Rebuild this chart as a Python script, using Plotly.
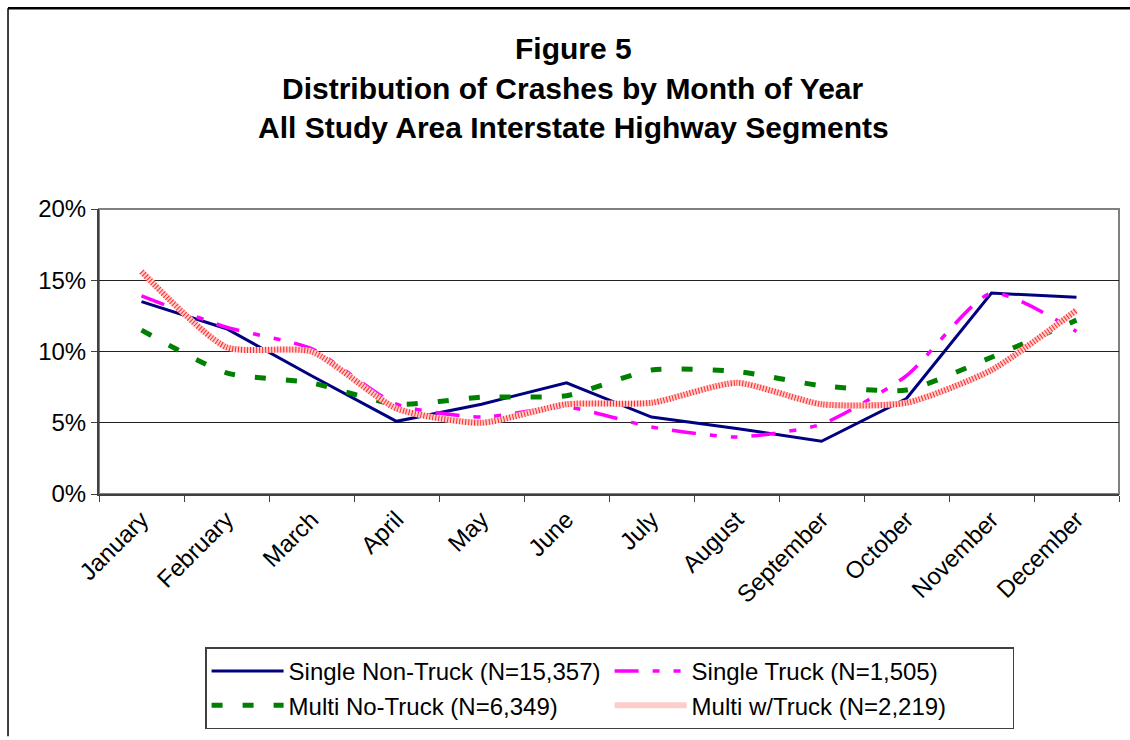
import plotly.graph_objects as go

months = ["January", "February", "March", "April", "May", "June", "July",
          "August", "September", "October", "November", "December"]
single_non_truck = [13.5, 11.6, 8.3, 5.1, 6.3, 7.8, 5.4, 4.6, 3.7, 6.7, 14.1, 13.8]
single_truck = [13.9, 11.7, 10.2, 6.3, 5.4, 6.1, 4.7, 4.0, 4.9, 8.3, 14.1, 11.4]
multi_no_truck = [11.5, 8.5, 7.8, 6.3, 6.8, 6.9, 8.7, 8.6, 7.6, 7.3, 9.6, 12.2]
multi_w_truck = [15.6, 10.3, 10.0, 6.0, 5.0, 6.3, 6.4, 7.8, 6.3, 6.4, 8.7, 12.9]

names = ["Single Non-Truck (N=15,357)", "Single Truck (N=1,505)",
         "Multi No-Truck (N=6,349)", "Multi w/Truck (N=2,219)"]
title_lines = ["Figure 5", "Distribution of Crashes by Month of Year",
               "All Study Area Interstate Highway Segments"]

FONT = "Liberation Sans, Arial, sans-serif"

fig = go.Figure()
fig.add_trace(go.Scatter(x=months, y=single_non_truck, name=names[0], mode="lines",
                         line=dict(color="#000080", width=3)))
fig.add_trace(go.Scatter(x=months, y=single_truck, name=names[1], mode="lines",
                         line=dict(color="#ff00ff", width=3.5, shape="spline", smoothing=0.6,
                                   dash="24px,14px,7px,14px,7px,14px")))
fig.add_trace(go.Scatter(x=months, y=multi_no_truck, name=names[2], mode="lines",
                         line=dict(color="#008000", width=5, shape="spline", smoothing=0.6,
                                   dash="11px,20px")))
fig.add_trace(go.Scatter(x=months, y=multi_w_truck, name=names[3], mode="lines",
                         legendgroup="mwt",
                         line=dict(color="#ffcccc", width=6, shape="spline", smoothing=0.6)))
fig.add_trace(go.Scatter(x=months, y=multi_w_truck, name=names[3], mode="lines",
                         legendgroup="mwt", showlegend=False, hoverinfo="skip",
                         line=dict(color="#ff2a2a", width=6, shape="spline", smoothing=0.6,
                                   dash="1px,2px")))

title_y = [1.5625, 1.4236, 1.2847]
annotations = [dict(text="<b>" + t + "</b>", x=0.465, y=yy, xref="paper", yref="paper",
                    xanchor="center", yanchor="middle", showarrow=False,
                    font=dict(family=FONT, size=30, color="black"))
               for t, yy in zip(title_lines, title_y)]

fig.update_layout(
    width=1130, height=740,
    margin=dict(l=99, r=11, t=209, b=243),
    paper_bgcolor="white", plot_bgcolor="white",
    font=dict(family=FONT, size=24, color="black"),
    showlegend=True,
    legend=dict(orientation="h", x=0.104, y=-0.538, xanchor="left", yanchor="top",
                entrywidth=316, itemwidth=72, bordercolor="#404040", borderwidth=1.5,
                bgcolor="white", font=dict(family=FONT, size=24, color="black"),
                traceorder="normal"),
    annotations=annotations,
    shapes=[
        dict(type="line", xref="paper", yref="paper", x0=-0.0892, x1=1.012, y0=1.7045, y1=1.7045,
             line=dict(color="black", width=2.5)),
        dict(type="line", xref="paper", yref="paper", x0=-0.0892, x1=-0.0892, y0=1.7045, y1=-0.85,
             line=dict(color="black", width=1.5)),
    ],
)
fig.update_xaxes(type="category", range=[-0.5, 11.5], showgrid=False, showline=True,
                 linecolor="#404040", linewidth=2, mirror=False, ticks="outside",
                 tickson="boundaries", ticklen=6, tickcolor="#404040", tickangle=-45,
                 tickfont=dict(family=FONT, size=24, color="black"))
fig.update_yaxes(range=[0, 20], dtick=5, ticksuffix="%", showgrid=True, gridcolor="#222222",
                 gridwidth=1, showline=True, linecolor="#404040", linewidth=2, zeroline=False,
                 ticks="outside", ticklen=6, tickcolor="#404040",
                 tickfont=dict(family=FONT, size=24, color="black"))
fig.add_shape(type="rect", xref="paper", yref="paper", x0=0, x1=1, y0=0, y1=1,
              line=dict(color="#808080", width=2), layer="below")

fig.write_html("out.html", config={"displayModeBar": False},
               post_script="document.body.style.margin='0';document.body.style.overflow='hidden';")
